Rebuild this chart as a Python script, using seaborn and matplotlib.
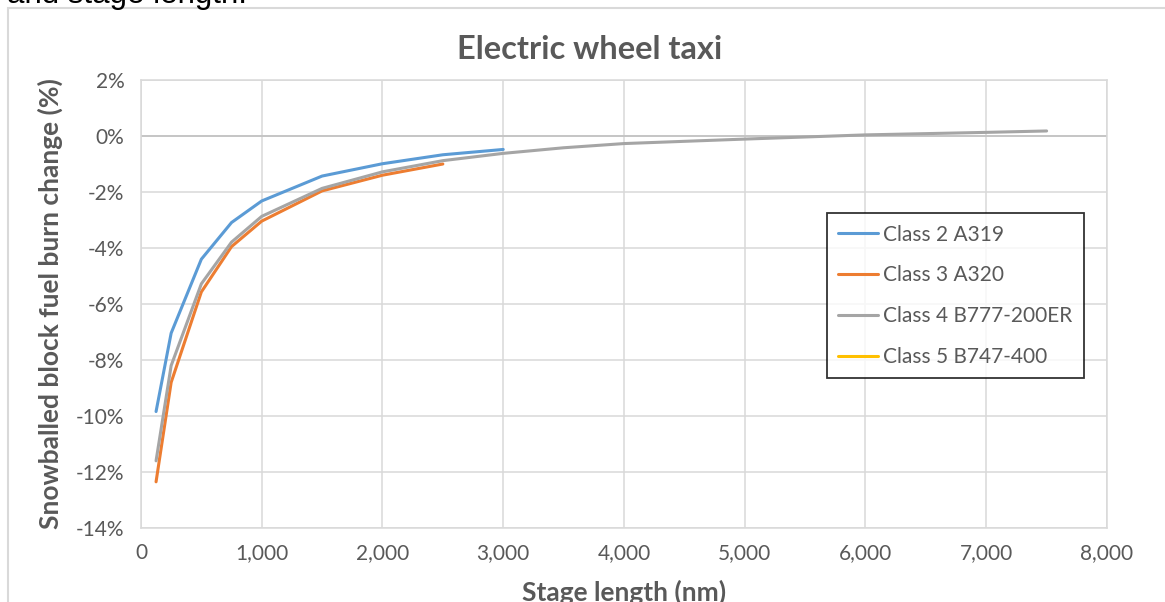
import numpy as np
import pandas as pd
import seaborn as sns
import matplotlib.pyplot as plt
from matplotlib.lines import Line2D
from matplotlib.patches import Rectangle
from matplotlib.ticker import FuncFormatter, MultipleLocator

# values (stage length in nm, fuel burn change in %)
stage_a319 = [125, 250, 500, 750, 1000, 1500, 2000, 2500, 3000]
burn_a319 = [-9.84, -7.04, -4.40, -3.09, -2.32, -1.43, -0.99, -0.67, -0.48]

stage_a320 = [125, 250, 500, 750, 1000, 1500, 2000, 2500]
burn_a320 = [-12.35, -8.80, -5.57, -3.95, -3.04, -1.96, -1.40, -1.00]

stage_b777 = [125, 250, 500, 750, 1000, 1500, 2000, 2500, 3000, 3500, 4000, 5000, 6000, 7000, 7500]
burn_b777 = [-11.60, -8.20, -5.28, -3.79, -2.87, -1.87, -1.28, -0.88, -0.62, -0.42, -0.27, -0.11, 0.04, 0.13, 0.18]

# class 5 has no plotted values, only a legend entry
stage_b747 = []
burn_b747 = []

series_names = ["Class 2 A319", "Class 3 A320", "Class 4 B777-200ER", "Class 5 B747-400"]
series_colors = ["#5B9BD5", "#ED7D31", "#A5A5A5", "#FFC000"]

x_ticks = [0, 1000, 2000, 3000, 4000, 5000, 6000, 7000, 8000]
y_ticks = [2, 0, -2, -4, -6, -8, -10, -12, -14]

frames = []
for name, xs, ys in zip(series_names,
                        [stage_a319, stage_a320, stage_b777, stage_b747],
                        [burn_a319, burn_a320, burn_b777, burn_b747]):
    frames.append(pd.DataFrame({"stage": xs, "burn": ys, "aircraft": name}))
df = pd.concat([f for f in frames if len(f)], ignore_index=True)

sns.set_theme(style="white")
plt.rcParams["font.family"] = ["Lato", "DejaVu Sans"]

grid_col = "#D9D9D9"
text_col = "#595959"

fig = plt.figure(figsize=(11.65, 6.02), dpi=100)
ax = fig.add_axes([0.1210, 0.1229, 0.8292, 0.7442])

palette = dict(zip(series_names, series_colors))
sns.lineplot(data=df, x="stage", y="burn", hue="aircraft", hue_order=series_names,
             palette=palette, linewidth=2.2, legend=False, ax=ax, zorder=3)

ax.set_xlim(min(x_ticks), max(x_ticks))
ax.set_ylim(min(y_ticks), max(y_ticks))
ax.xaxis.set_major_locator(MultipleLocator(1000))
ax.yaxis.set_major_locator(MultipleLocator(2))
ax.xaxis.set_major_formatter(FuncFormatter(lambda v, p: f"{v:,.0f}"))
ax.yaxis.set_major_formatter(FuncFormatter(lambda v, p: f"{v:.0f}%"))
ax.grid(True, color=grid_col, linewidth=1.1)
ax.set_axisbelow(True)
for s in ax.spines.values():
    s.set_color(grid_col)
    s.set_linewidth(1.1)
ax.axhline(0, color="#BFBFBF", linewidth=1.1, zorder=2)
ax.tick_params(axis="both", length=0, labelsize=15, labelcolor=text_col)
ax.tick_params(axis="x", pad=11)
ax.tick_params(axis="y", pad=12)

ax.set_xlabel("Stage length (nm)", fontsize=19, fontweight="bold", color=text_col, labelpad=12)
ax.set_ylabel("Snowballed block fuel burn change (%)", fontsize=19, fontweight="bold",
              color=text_col, labelpad=9)
# the title is centred on the whole chart area, not on the plot area
ax.set_title("Electric wheel taxi", fontsize=23.5, fontweight="bold", color=text_col,
             pad=15, x=0.4648)

handles = [Line2D([], [], color=c, linewidth=2.2) for c in series_colors]
leg = ax.legend(handles, series_names, loc="upper left", bbox_to_anchor=(0.710, 0.703),
                frameon=True, fancybox=False, edgecolor="black", fontsize=15,
                handlelength=1.9, handletextpad=0.25, labelspacing=1.0,
                borderpad=0.55, borderaxespad=0)
leg.get_frame().set_linewidth(1.3)
for t in leg.get_texts():
    t.set_color(text_col)

# outer chart-area border and the cut-off caption above it
fig.patches.append(Rectangle((8 / 1165, -0.05), 1.1, 1.05 - 8 / 602,
                             transform=fig.transFigure, fill=False,
                             edgecolor=grid_col, linewidth=1.5))
fig.text(7 / 1165, 1 - 3 / 602, "and stage length.", fontsize=22.5, color="black",
         family="Liberation Sans", va="baseline", ha="left")

fig.savefig("out.png", dpi=100)
